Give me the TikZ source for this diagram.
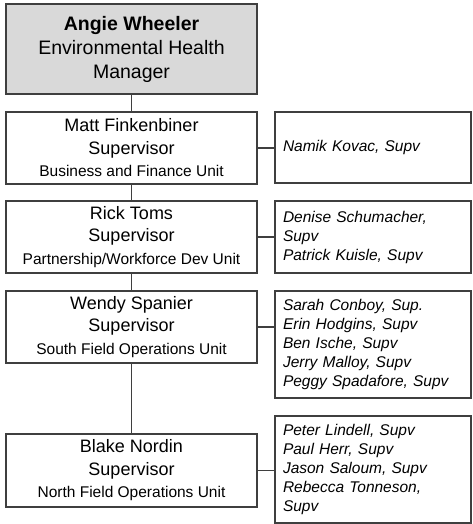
\documentclass[tikz,border=0pt]{standalone}
\usepackage{fontspec}
\setmainfont{Liberation Sans}
\definecolor{boxline}{HTML}{3F3F3F}
\definecolor{boxfill}{HTML}{D9D9D9}
\tikzset{
  box/.style={draw=boxline, line width=1.4pt, fill=white, inner sep=0pt, outer sep=0pt},
  mainbox/.style={box, minimum width=251pt, minimum height=72pt, align=center,
    font=\fontsize{18}{22.5}\selectfont},
  topbox/.style={box, fill=boxfill, minimum width=251pt, minimum height=90pt, align=center,
    font=\fontsize{19.5}{24}\selectfont},
  sidebox/.style={box, minimum width=196pt, text width=180pt, align=left,
    font=\fontsize{15.5}{19}\selectfont\itshape},
  link/.style={draw=boxline, line width=1.4pt},
  unit/.style={}
}
\newcommand{\unitline}[1]{{\fontsize{15.5}{22.5}\selectfont #1}}
\begin{document}
\begin{tikzpicture}[x=1pt,y=-1pt]
\useasboundingbox (0,0) rectangle (472,524);
% left column
\node[topbox] (angie) at (131.5,49) {\textbf{Angie Wheeler}\\Environmental Health\\Manager};
\node[mainbox] (matt) at (131.5,148) {Matt Finkenbiner\\Supervisor\\\unitline{Business and Finance Unit}};
\node[mainbox] (rick) at (131.5,237) {Rick Toms\\Supervisor\\\unitline{Partnership/Workforce Dev Unit}};
\node[mainbox] (wendy) at (131.5,327) {Wendy Spanier\\Supervisor\\\unitline{South Field Operations Unit}};
\node[mainbox, minimum height=73pt] (blake) at (131.5,470.5) {Blake Nordin\\Supervisor\\\unitline{North Field Operations Unit}};
% right column
\node[sidebox, minimum height=71pt] (namik) at (373,147.5) {Namik Kovac, Supv};
\node[sidebox, minimum height=72pt] (denise) at (373,237) {Denise Schumacher,\\Supv\\Patrick Kuisle, Supv};
\node[sidebox, minimum height=107pt] (sarah) at (373,344.5) {Sarah Conboy, Sup.\\Erin Hodgins, Supv\\Ben Ische, Supv\\Jerry Malloy, Supv\\Peggy Spadafore, Supv};
\node[sidebox, minimum height=107pt] (peter) at (373,469.5) {Peter Lindell, Supv\\Paul Herr, Supv\\Jason Saloum, Supv\\Rebecca Tonneson,\\Supv};
% vertical connectors
\draw[link] (angie.south) -- (matt.north);
\draw[link] (matt.south) -- (rick.north);
\draw[link] (rick.south) -- (wendy.north);
\draw[link] (wendy.south) -- (blake.north);
% horizontal connectors
\draw[link] (matt.east) -- (matt.east -| namik.west);
\draw[link] (rick.east) -- (rick.east -| denise.west);
\draw[link] (wendy.east) -- (wendy.east -| sarah.west);
\draw[link] (blake.east) -- (blake.east -| peter.west);
\end{tikzpicture}
\end{document}
